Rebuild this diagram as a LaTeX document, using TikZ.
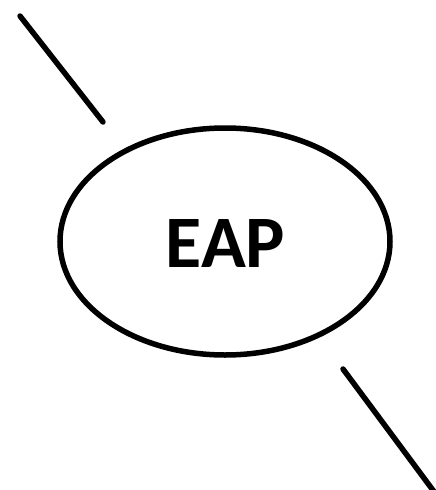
\documentclass[tikz,border=0pt]{standalone}
\usetikzlibrary{shapes.geometric}
\usepackage{fontspec}
\setmainfont{Carlito}
\tikzset{
  stroke/.style={line width=5.5pt, line cap=round, black},
  label/.style={font=\fontsize{74}{74}\selectfont\bfseries, inner sep=0pt}
}
\begin{document}
\begin{tikzpicture}[x=1pt,y=-1pt]
\useasboundingbox (0,0) rectangle (436,490);
\clip (0,0) rectangle (436,490);
\node[stroke, draw, ellipse, minimum width=330pt, minimum height=227pt, inner sep=0pt] (eap) at (225,241.5) {};
\node[label] (t) at (225.5,244) {EAP};
\coordinate (a1) at (20,16);
\coordinate (a2) at (103,122);
\coordinate (b1) at (343,369);
\coordinate (b2) at (438,497);
\draw[stroke] (a1) -- (a2);
\draw[stroke] (b1) -- (b2);
\end{tikzpicture}
\end{document}
